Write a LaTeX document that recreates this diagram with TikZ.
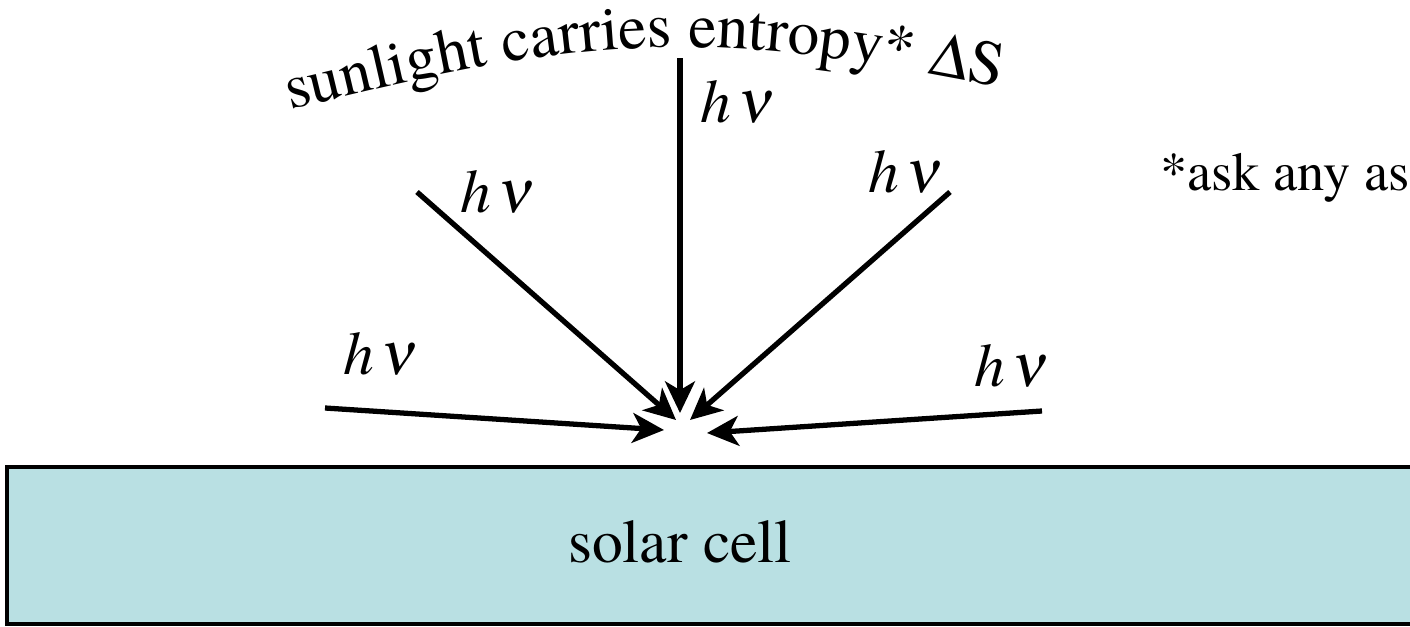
\documentclass[tikz,border=0pt]{standalone}
\usepackage{mathptmx}
\usepackage[Symbol]{upgreek}
\usepackage[no-math]{fontspec}
\setmainfont{TeX Gyre Termes}
\usetikzlibrary{arrows.meta, decorations.text}
\definecolor{cell-cyan}{HTML}{B9E0E3}
\definecolor{jet}{HTML}{000000}

\begin{document}
\begin{tikzpicture}[x=0.02cm, y=-0.02cm,
    every node/.style={font=\fontsize{35}{42}\selectfont, inner sep=0pt},
    ray/.style={-{Stealth[length=18pt, width=17pt, inset=5pt]},
      line width=3pt, color=jet}]
    \clip (0,0) rectangle (1410,626);
    \node[draw, line width=2.3pt, fill=cell-cyan, minimum width=28.5cm,
      minimum height=3.14cm, anchor=north west] (cell) at (5,465) {};
    \node[anchor=base] (celltxt) at (680,562) {solar cell};
    \coordinate (s1) at (325,408);
    \coordinate (s2) at (417,192);
    \coordinate (s3) at (680,58);
    \coordinate (s4) at (950,192);
    \coordinate (s5) at (1042,411);
    \coordinate (t1) at (664,430);
    \coordinate (t2) at (676,420);
    \coordinate (t3) at (680,413);
    \coordinate (t4) at (690,420);
    \coordinate (t5) at (707,433);
    \draw[ray] (s1) -- (t1);
    \draw[ray] (s2) -- (t2);
    \draw[ray] (s3) -- (t3);
    \draw[ray] (s4) -- (t4);
    \draw[ray] (s5) -- (t5);
    \node (hv1) at (381,354) {$h\,\nu$};
    \node (hv2) at (498,192) {$h\,\nu$};
    \node (hv3) at (738,102) {$h\,\nu$};
    \node (hv4) at (906,172) {$h\,\nu$};
    \node (hv5) at (1012,366) {$h\,\nu$};
    \path[decorate, decoration={text along path, text align=left,
      text={|\fontsize{36}{42}\selectfont|sunlight carries entropy* {$\upDelta$}S}}]
      (290,110) .. controls (590,35) and (700,27) .. (1000,87);
    \node[anchor=base west, font=\fontsize{31}{36}\selectfont] (note)
      at (1160,190) {*ask any as};
\end{tikzpicture}
\end{document}
